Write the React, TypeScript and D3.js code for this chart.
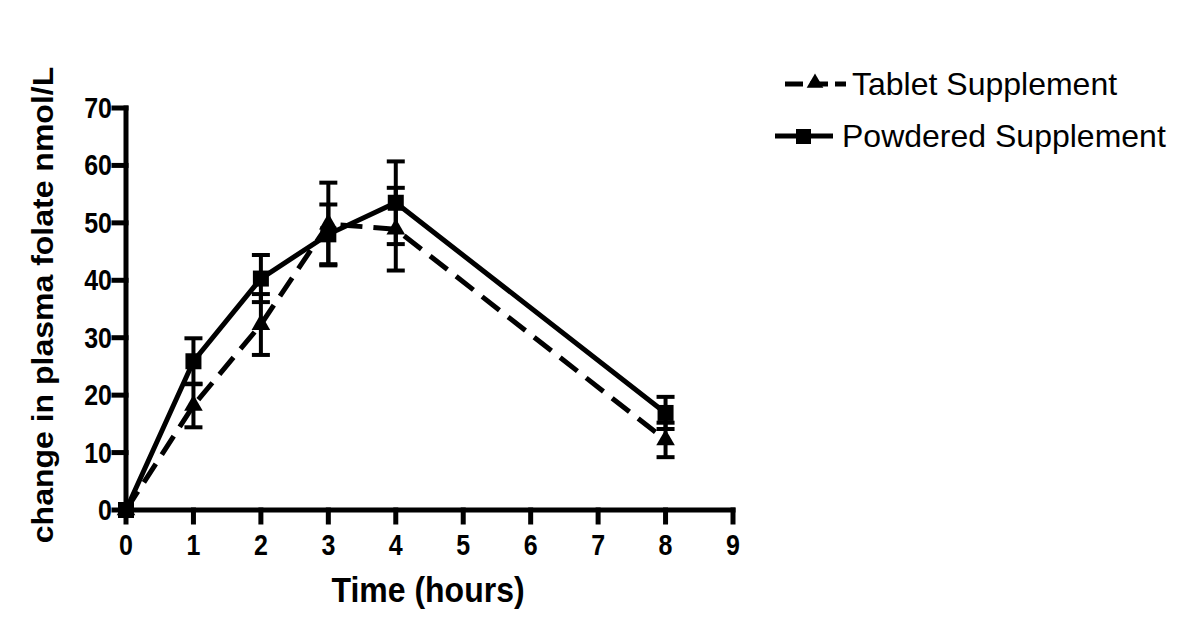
import React from "react";
import * as d3 from "d3";

const times = [0, 1, 2, 3, 4, 8];
const tabletMean = [0, 18.2, 32.3, 49.8, 48.9, 12.2];
const tabletErr = [0, 3.8, 5.3, 7.2, 7.2, 3.0];
const powderMean = [0, 25.9, 40.3, 48.0, 53.5, 16.9];
const powderErr = [0, 4.0, 4.1, 5.2, 7.2, 2.8];
const xTicks = [0, 1, 2, 3, 4, 5, 6, 7, 8, 9];
const yTicks = [0, 10, 20, 30, 40, 50, 60, 70];
const seriesNames = ["Tablet Supplement", "Powdered Supplement"];

const W = 1200;
const H = 641;
const x = d3.scaleLinear().domain([0, 9]).range([126, 733]);
const y = d3.scaleLinear().domain([0, 70]).range([510, 108]);
const FONT = "'Liberation Sans', Arial, sans-serif";

function Series({ means, errs, dashed, marker }: { means: number[]; errs: number[]; dashed: boolean; marker: "tri" | "sq" }) {
  const line = d3.line<number>().x((_, i) => x(times[i])).y((d) => y(d));
  return (
    <g>
      <path d={line(means) || ""} fill="none" stroke="#000" strokeWidth={5} strokeDasharray={dashed ? "22 11" : undefined} strokeLinejoin="miter" />
      {means.map((m, i) => {
        if (errs[i] <= 0) return null;
        const cx = x(times[i]);
        return (
          <g key={"e" + i} stroke="#000" strokeWidth={4}>
            <line x1={cx} x2={cx} y1={y(m + errs[i])} y2={y(m - errs[i])} />
            <line x1={cx - 9} x2={cx + 9} y1={y(m + errs[i])} y2={y(m + errs[i])} />
            <line x1={cx - 9} x2={cx + 9} y1={y(m - errs[i])} y2={y(m - errs[i])} />
          </g>
        );
      })}
      {means.map((m, i) => {
        const cx = x(times[i]);
        const cy = y(m);
        if (marker === "sq") return <rect key={"m" + i} x={cx - 8} y={cy - 8} width={16} height={16} fill="#000" />;
        const p = d3.symbol(d3.symbolTriangle, 150)();
        return <path key={"m" + i} d={p || ""} transform={`translate(${cx},${cy})`} fill="#000" />;
      })}
    </g>
  );
}

export default function App() {
  const tri = d3.symbol(d3.symbolTriangle, 120)() || "";
  return (
    <svg width={W} height={H} style={{ position: "absolute", left: 0, top: 0, background: "#fff" }}>
      <rect width={W} height={H} fill="#fff" />
      <g stroke="#000" strokeWidth={5} strokeLinecap="square">
        <line x1={x(0)} x2={x(0)} y1={y(70)} y2={y(0)} />
        <line x1={x(0)} x2={x(9)} y1={y(0)} y2={y(0)} />
        {yTicks.map((t) => (
          <line key={"yt" + t} x1={114} x2={x(0)} y1={y(t)} y2={y(t)} />
        ))}
        {xTicks.map((t) => (
          <line key={"xt" + t} x1={x(t)} x2={x(t)} y1={y(0)} y2={522} />
        ))}
      </g>
      <g fontFamily={FONT} fontWeight="bold" fontSize={25} fill="#000">
        {yTicks.map((t) => (
          <text key={"yl" + t} transform={`translate(112,${y(t) + 10}) scale(1,1.18)`} textAnchor="end">
            {t}
          </text>
        ))}
        {xTicks.map((t) => (
          <text key={"xl" + t} transform={`translate(${x(t)},555) scale(1,1.18)`} textAnchor="middle">
            {t}
          </text>
        ))}
      </g>
      <text transform="translate(428,602) scale(1,1.12)" textAnchor="middle" fontFamily={FONT} fontWeight="bold" fontSize={32} fill="#000">
        Time (hours)
      </text>
      <text transform="translate(53,305) rotate(-90) scale(1,0.95)" textAnchor="middle" fontFamily={FONT} fontWeight="bold" fontSize={32} fill="#000">
        change in plasma folate nmol/L
      </text>
      <Series means={tabletMean} errs={tabletErr} dashed={true} marker="tri" />
      <Series means={powderMean} errs={powderErr} dashed={false} marker="sq" />
      <g>
        <line x1={785} x2={846} y1={84} y2={84} stroke="#000" strokeWidth={5} strokeDasharray="18 7" />
        <path d={tri} transform="translate(815,83)" fill="#000" />
        <text x={852} y={95} fontFamily={FONT} fontSize={32} fill="#000">{seriesNames[0]}</text>
        <line x1={775} x2={833} y1={136} y2={136} stroke="#000" strokeWidth={5} />
        <rect x={796} y={129} width={15} height={15} fill="#000" />
        <text x={842} y={147} fontFamily={FONT} fontSize={32} fill="#000">{seriesNames[1]}</text>
      </g>
    </svg>
  );
}
